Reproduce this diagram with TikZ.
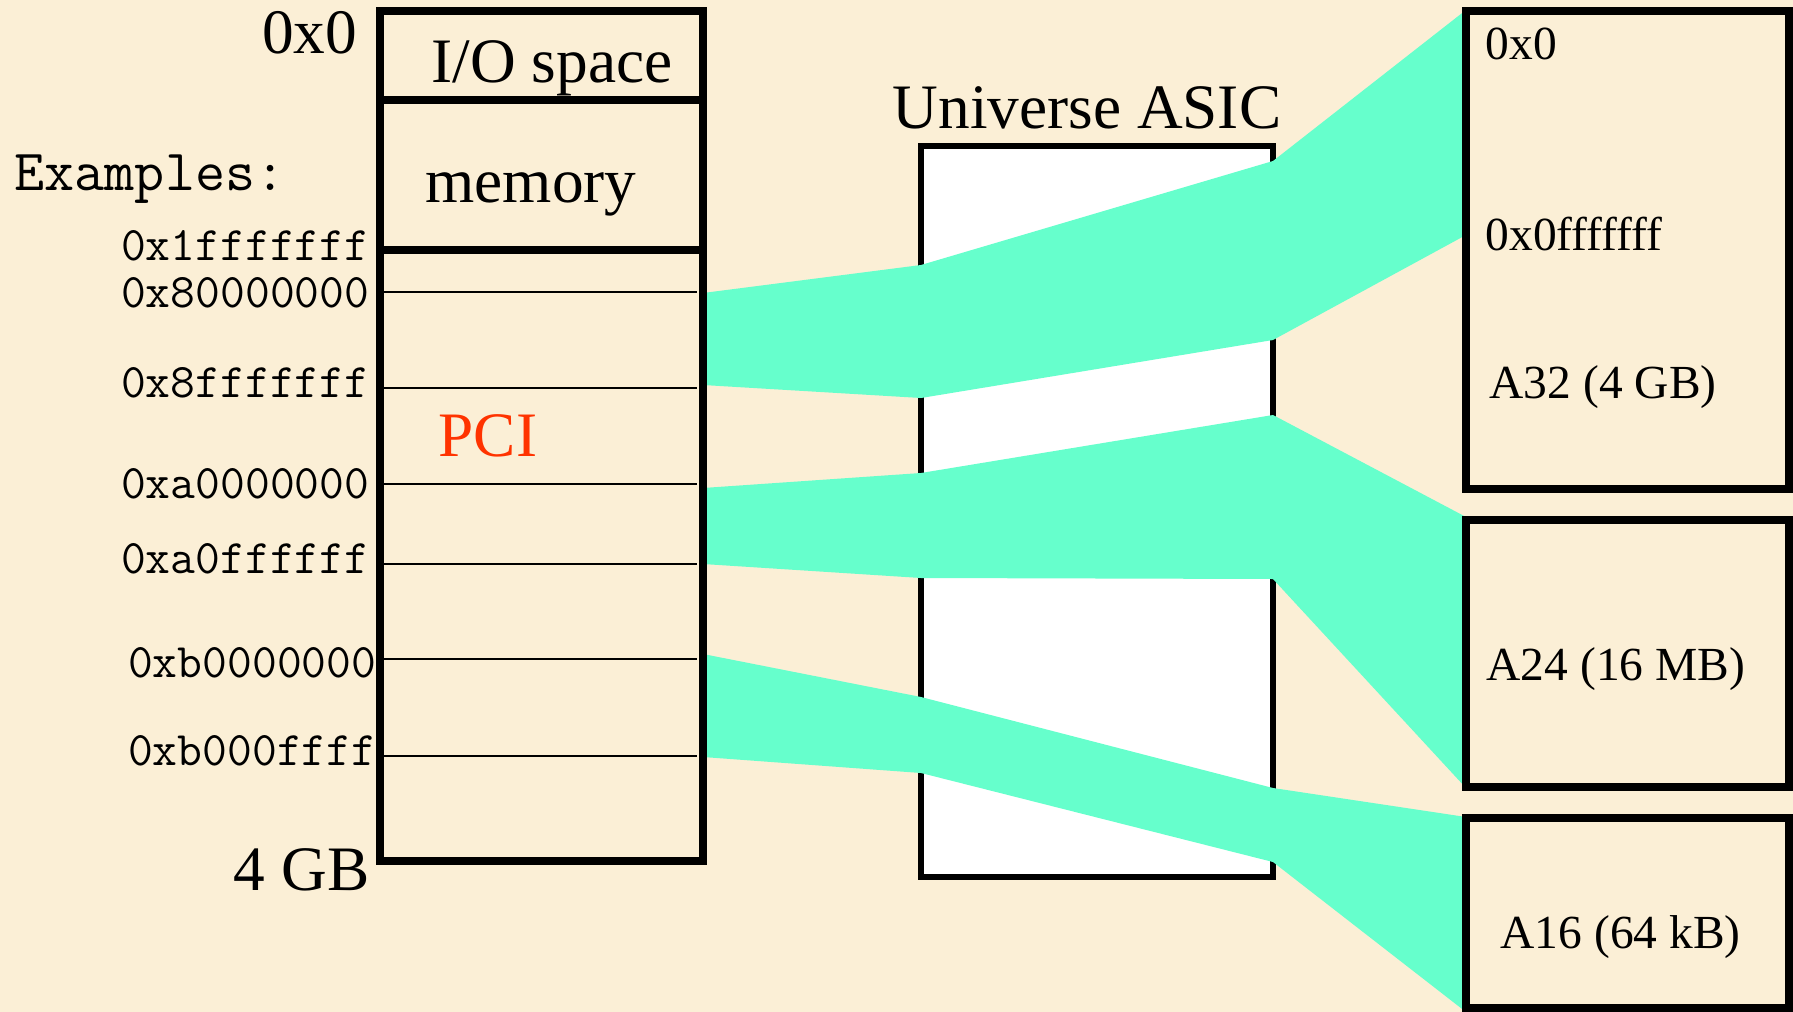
\documentclass[tikz,border=0pt]{standalone}
\usepackage{fontspec}
\setmainfont{Liberation Serif}
\usepackage{xcolor}
\definecolor{parchment}{RGB}{251,239,214}
\definecolor{bandgreen}{RGB}{102,255,204}
\definecolor{pcired}{RGB}{255,51,0}

\begin{document}
\begin{tikzpicture}[x=0.01cm,y=-0.01cm]
        \tikzset{
        mm box/.style={draw,line width=2pt},
        mm thin/.style={line width=0.5pt},
        mm band/.style={fill=bandgreen},
        mm big/.style={font=\fontsize{18}{22}\selectfont,inner sep=0},
        mm small/.style={font=\fontsize{13.5}{16}\selectfont,inner sep=0,anchor=base west},
        mm addr/.style={font=\ttfamily\fontsize{13.7}{16}\selectfont,inner sep=0,anchor=base east}
        }
        \useasboundingbox (0,0) rectangle (1793,1012);
        \fill[parchment] (0,0) rectangle (1793,1012);

        \draw[fill=white,line width=1.5pt] (921,146) rectangle (1273,877);

        \fill[mm band] (703,293) -- (921,265) -- (1273,161) -- (1466,10)
            -- (1466,235) -- (1273,340) -- (921,398) -- (703,385) -- cycle;
        \fill[mm band] (703,488) -- (921,473) -- (1273,415) -- (1466,517)
            -- (1466,788) -- (1273,579) -- (921,578) -- (703,564) -- cycle;
        \fill[mm band] (703,654) -- (921,697) -- (1273,788) -- (1466,817)
            -- (1466,1012) -- (1273,862) -- (921,773) -- (703,757) -- cycle;

        \draw[mm box] (380,11) rectangle (703,861);
        \draw[mm box] (380,100) -- (703,100) (380,250) -- (703,250);
        \draw[mm thin] (383,292) -- (697,292) (383,388) -- (697,388)
            (383,484) -- (697,484) (383,564) -- (697,564)
            (383,659) -- (697,659) (383,756) -- (697,756);

        \draw[mm box] (1466,11) rectangle (1789,489);
        \draw[mm box] (1466,520) rectangle (1789,787);
        \draw[mm box] (1466,818) rectangle (1789,1008);

        \node[mm big, anchor=base east] (zero) at (358,53) {0x0};
        \node[mm big, anchor=base east] (fourgb) at (370,890) {4 GB};
        \node[mm big, anchor=base] (io) at (552,83) {I/O space};
        \node[mm big, anchor=base] (mem) at (531,202) {memory};
        \node[mm big, anchor=base, pcired] (pci) at (488,456) {PCI};
        \node[mm big, anchor=base] (asic) at (1087,128) {Universe ASIC};

        \node[font=\ttfamily\fontsize{16.6}{19}\selectfont, inner sep=0, anchor=base west] (examples) at (14,190) {Examples:};
        \node[mm addr] (a1) at (370,260) {0x1fffffff};
        \node[mm addr] (a2) at (370,307) {0x80000000};
        \node[mm addr] (a3) at (370,397) {0x8fffffff};
        \node[mm addr] (a4) at (370,498) {0xa0000000};
        \node[mm addr] (a5) at (370,573) {0xa0ffffff};
        \node[mm addr] (a6) at (377,677) {0xb0000000};
        \node[mm addr] (a7) at (377,765) {0xb000ffff};

        \node[mm small] (vzero) at (1485,60) {0x0};
        \node[mm small] (vtop) at (1485,250) {0x0fffffff};
        \node[mm small] (a32) at (1489,398) {A32 (4 GB)};
        \node[mm small] (a24) at (1486,680) {A24 (16 MB)};
        \node[mm small] (a16) at (1500,948) {A16 (64 kB)};
    \end{tikzpicture}
\end{document}
